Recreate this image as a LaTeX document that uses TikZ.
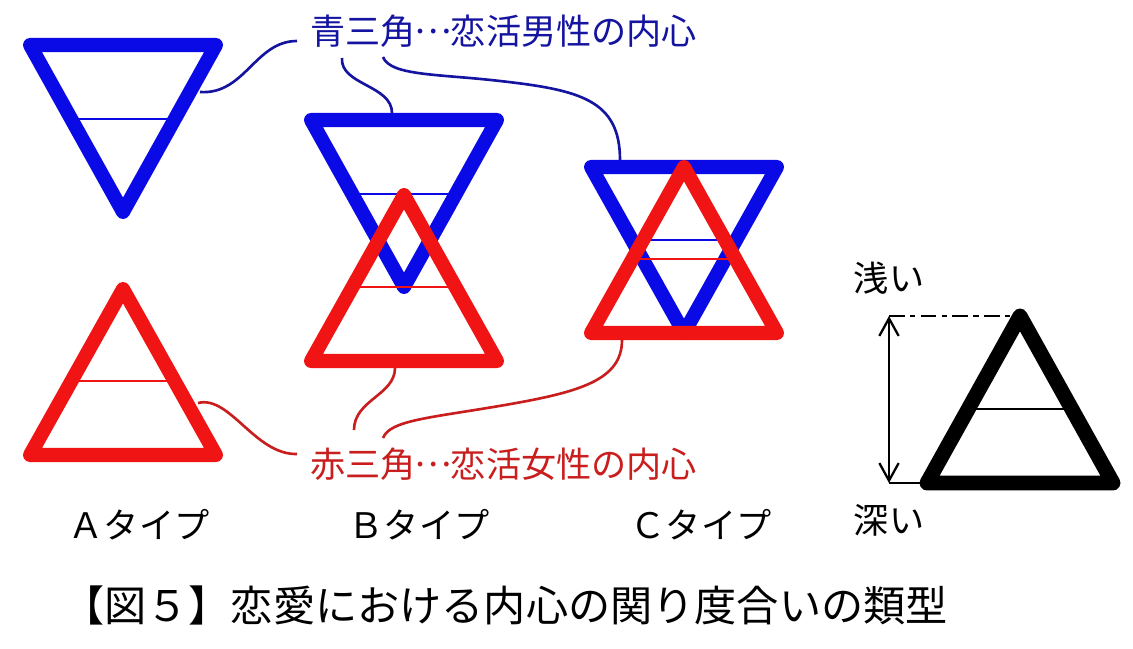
\documentclass[tikz,border=0pt]{standalone}
\usepackage{fontspec}
\setmainfont{Noto Sans CJK JP}
\usetikzlibrary{arrows.meta, positioning, calc}
\definecolor{triblue}{HTML}{0A0AE6}
\definecolor{trired}{HTML}{F01414}
\definecolor{inkblue}{HTML}{1414A0}
\definecolor{inkred}{HTML}{C81E1E}
% a full-width ellipsis with its dots at mid height
\newcommand{\midellip}{\makebox[1em]{\raisebox{0.3em}{…}}}

\begin{document}
\begin{tikzpicture}[
  x=0.02cm, y=-0.02cm,
  tri/.style={line width=8pt, line join=round},
  bluetri/.style={tri, draw=triblue},
  redtri/.style={tri, draw=trired},
  blacktri/.style={line width=8.5pt, line join=round, draw=black},
  midline/.style={line width=1.6pt},
  bluecon/.style={draw=inkblue, line width=1.5pt},
  redcon/.style={draw=inkred, line width=1.5pt},
  keylab/.style={anchor=west, inner xsep=0.26cm, inner ysep=0pt, font=\fontsize{20}{24}\selectfont},
  typelab/.style={inner sep=0pt, font=\fontsize{20}{24}\selectfont},
  gauge/.style={line width=1.3pt},
]
  \useasboundingbox (0,0) rectangle (1133,649);

  % type A
  \draw[midline, triblue] (71,119) -- (175,119);
  \draw[bluetri] (30,45) -- (216,45) -- (123,212) -- cycle;
  \draw[midline, trired] (72,381) -- (174,381);
  \draw[redtri] (30,455) -- (216,455) -- (123,289) -- cycle;

  % type B
  \draw[midline, triblue] (352,194) -- (456,194);
  \draw[bluetri] (311,120) -- (497,120) -- (404,287) -- cycle;
  \draw[midline, trired] (353,287) -- (455,287);
  \draw[redtri] (311,361) -- (497,361) -- (404,195) -- cycle;

  % type C
  \draw[midline, triblue] (632,240) -- (736,240);
  \draw[bluetri] (591,167) -- (777,167) -- (684,333) -- cycle;
  \draw[midline, trired] (633,259) -- (735,259);
  \draw[redtri] (591,333) -- (777,333) -- (684,167) -- cycle;

  % where the leaders touch the triangles
  \coordinate (aB) at (200,92);
  \coordinate (bB) at (392,113);
  \coordinate (cB) at (620,160);
  \coordinate (aR) at (198,403);
  \coordinate (bR) at (395,368);
  \coordinate (cR) at (622,340);

  \node[keylab, text=inkblue] (blab) at (297,31) {青三角\midellip 恋活男性の内心};
  \node[keylab, text=inkred] (rlab) at (297,464) {赤三角\midellip 恋活女性の内心};

  \draw[bluecon] (aB) .. controls (245,95) and (255,41) .. ([shift={(0,10)}]blab.west);
  \draw[bluecon] ([shift={(45,27)}]blab.west) .. controls (340,85) and (392,85) .. (bB);
  \draw[bluecon] ([shift={(86,26)}]blab.west) .. controls (390,76) and (440,74) .. (500,81)
    .. controls (580,90) and (620,100) .. (cB);

  \draw[redcon] (aR) .. controls (230,395) and (255,455) .. ([shift={(0,-10)}]rlab.west);
  \draw[redcon] (bR) .. controls (395,395) and (354,400) .. ([shift={(57,-34)}]rlab.west);
  \draw[redcon] (cR) .. controls (622,380) and (580,392) .. (505,405)
    .. controls (430,418) and (390,420) .. ([shift={(86,-26)}]rlab.west);

  % depth scale
  \coordinate (kApex) at (1020,316);
  \coordinate (kLeft) at (927,483);
  \coordinate (kRight) at (1113,483);
  \coordinate (sTop) at (889,316);
  \coordinate (sBot) at (889,483);
  \draw[midline, line width=1.5pt] (968,409) -- (1072,409);
  \draw[blacktri] (kLeft) -- (kRight) -- (kApex) -- cycle;
  \draw[gauge, {Straight Barb[length=10pt,width=11pt]}-{Straight Barb[length=10pt,width=11pt]}] (sTop) -- (sBot);
  \draw[gauge, dash pattern=on 9pt off 3pt on 3pt off 3pt] (sTop) -- (kApex);
  \draw[gauge] (sBot) -- (kLeft);
  \node[typelab] (shallow) at (889,278) {浅い};
  \node[typelab] (deep) at (889,520) {深い};

  \node[typelab] (tA) at (139,525) {Ａタイプ};
  \node[typelab] (tB) at (419,525) {Ｂタイプ};
  \node[typelab] (tC) at (701,525) {Ｃタイプ};

  \node[inner sep=0pt, font=\fontsize{24}{28}\selectfont] (cap) at (505,605) {【図５】恋愛における内心の関り度合いの類型};
\end{tikzpicture}
\end{document}
